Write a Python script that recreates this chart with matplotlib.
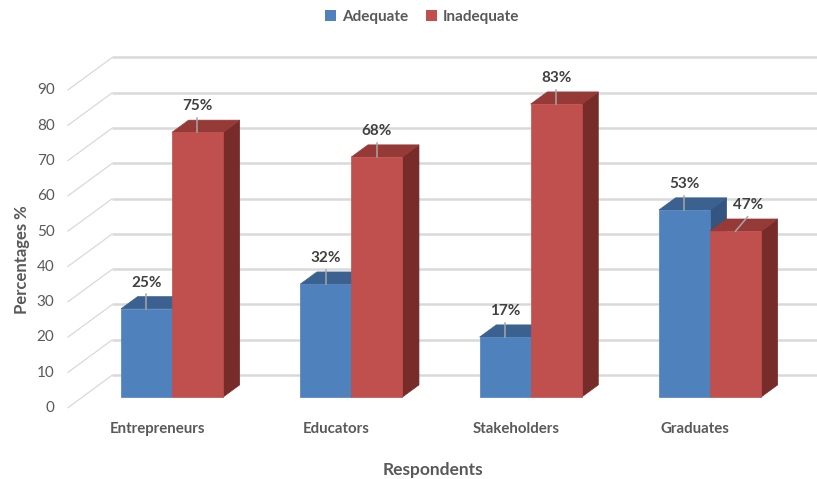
import matplotlib
matplotlib.use("Agg")
import matplotlib.pyplot as plt
from matplotlib.patches import Polygon, Patch

# ---- data ----
categories = ["Entrepreneurs", "Educators", "Stakeholders", "Graduates"]
series_names = ["Adequate", "Inadequate"]
adequate = [25, 32, 17, 53]
inadequate = [75, 68, 83, 47]
y_ticks = [0, 10, 20, 30, 40, 50, 60, 70, 80, 90]
y_title = "Percentages %"
x_title = "Respondents"

# ---- style ----
plt.rcParams["font.family"] = ["Lato", "DejaVu Sans"]
face_cols = {"Adequate": ("#4f81bd", "#3b6190", "#33557f"),
             "Inadequate": ("#c0504d", "#963a38", "#772c2a")}
grid_col = "#d9d9d9"
tick_col = "#595959"
label_col = "#404040"

fig = plt.figure(figsize=(8.17, 4.79), dpi=100)
ax = fig.add_axes([0, 0, 1, 1])
ax.set_xlim(-0.959, 3.597)
ax.set_ylim(-23.2, 112.5)
ax.axis("off")

# oblique projection: one unit of depth moves this far in data units
DX, DY = 0.251, 9.35
FRONT, BACK, BAR_DEPTH = -0.33, 0.67, 0.37
bar_w = 0.2845
left_edge, right_edge = -0.5, 4.0

# back wall gridlines with the diagonal floor/side strokes
for v in y_ticks:
    fx, fy = left_edge + FRONT * DX, v + FRONT * DY
    bx, by = left_edge + BACK * DX, v + BACK * DY
    ax.plot([fx, bx], [fy, by], color=grid_col, lw=0.9, zorder=1,
            solid_capstyle="butt")
    ax.plot([bx, right_edge], [by, by], color=grid_col, lw=1.8, zorder=1,
            solid_capstyle="butt")
    ax.text(fx - 0.072, fy, str(v), ha="right", va="center",
            fontsize=11, color=tick_col)


def draw_bar(x0, v, cols):
    front, top, side = cols
    x1 = x0 + bar_w
    ddx, ddy = BAR_DEPTH * DX, BAR_DEPTH * DY
    ax.add_patch(Polygon([(x1, 0), (x1 + ddx, ddy), (x1 + ddx, v + ddy), (x1, v)],
                         closed=True, facecolor=side, edgecolor=side, lw=0.5, zorder=3))
    ax.add_patch(Polygon([(x0, v), (x1, v), (x1 + ddx, v + ddy), (x0 + ddx, v + ddy)],
                         closed=True, facecolor=top, edgecolor=top, lw=0.5, zorder=3))
    ax.add_patch(Polygon([(x0, 0), (x1, 0), (x1, v), (x0, v)],
                         closed=True, facecolor=front, edgecolor=front, lw=0.5, zorder=3))


label_nudge = {(3, 1): 0.068}

for i, cat in enumerate(categories):
    for j, (name, vals) in enumerate(zip(series_names, [adequate, inadequate])):
        v = vals[i]
        x0 = i - bar_w + j * bar_w
        draw_bar(x0, v, face_cols[name])
        cx = x0 + bar_w / 2
        lx = cx + label_nudge.get((i, j), 0.0)
        ly = v + 7.4
        ax.plot([lx, cx], [ly - 3.3, v], color="#a6a6a6", lw=1.1, zorder=4)
        ax.text(lx, ly, f"{v}%", ha="center", va="center", fontsize=11,
                fontweight="bold", color=label_col, zorder=5)
    ax.text(i + FRONT * DX, FRONT * DY - 5.95, cat, ha="center", va="center",
            fontsize=10.8, fontweight="bold", color=tick_col)

fig.text(0.027, 0.459, y_title, rotation=90, ha="center", va="center",
         fontsize=12, fontweight="bold", color=tick_col)
fig.text(0.530, 0.019, x_title, ha="center", va="center",
         fontsize=12.5, fontweight="bold", color=tick_col)

handles = [Patch(facecolor=face_cols[n][0], edgecolor="none") for n in series_names]
fig.legend(handles, series_names, loc="center", bbox_to_anchor=(0.517, 1 - 17 / 479),
           ncol=2, frameon=False, handlelength=0.7, handleheight=0.7,
           handletextpad=0.4, columnspacing=1.2,
           prop={"size": 11, "weight": "bold"}, labelcolor=tick_col)

fig.savefig("out.png", dpi=100)
